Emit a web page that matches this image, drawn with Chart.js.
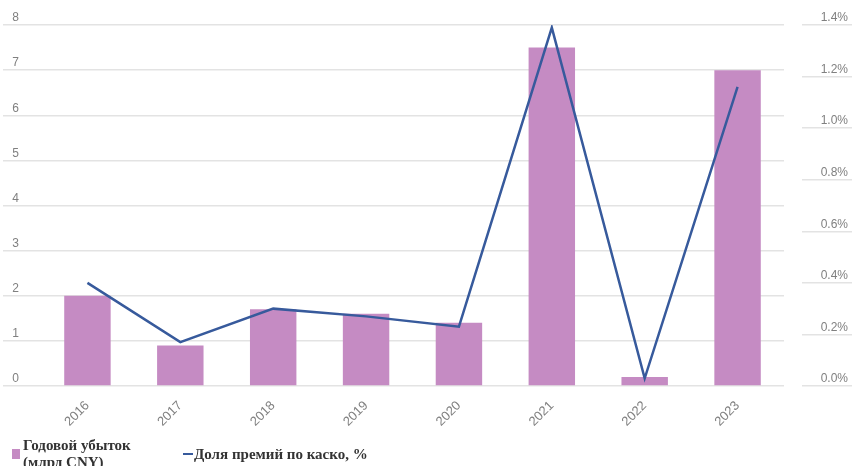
<!DOCTYPE html>
<html>
<head>
<meta charset="utf-8">
<script src="https://cdn.jsdelivr.net/npm/chart.js@4.4.1/dist/chart.umd.min.js"></script>
<style>
html,body{margin:0;padding:0;background:#fff;}
#wrap{position:relative;width:855px;height:466px;overflow:hidden;}
#chart{position:absolute;left:0;top:0;}
.leg{position:absolute;top:438px;height:32px;display:flex;align-items:center;font-family:"Liberation Serif","Times New Roman",serif;font-weight:bold;font-size:15px;line-height:17px;color:#333;white-space:nowrap;}
.box{width:8px;height:10px;margin-right:3px;flex:none;}
.dash{width:10px;height:2px;margin-right:1px;flex:none;}
</style>
</head>
<body>
<div id="wrap">
  <canvas id="chart" width="855" height="466"></canvas>
  <div class="leg" id="leg1" style="left:12px"></div>
  <div class="leg" id="leg2" style="left:183px"></div>
</div>
<script>
const years = ['2016', '2017', '2018', '2019', '2020', '2021', '2022', '2023'];
const annualLoss = [2.0, 0.9, 1.7, 1.6, 1.4, 7.5, 0.2, 7.0];
const cascoShare = [0.40, 0.17, 0.30, 0.27, 0.23, 1.39, 0.03, 1.16];
const lossLabel = ['Годовой убыток', '(млрд CNY)'];
const shareLabel = 'Доля премий по каско, %';

const barColor = '#C58BC3';
const lineColor = '#375A9C';
const gridColor = '#e3e3e3';
const tickColor = '#808080';
const tickFont = {family: '"Liberation Sans", Arial, sans-serif', size: 12};
const xTickFont = {family: '"Liberation Sans", Arial, sans-serif', size: 13};

// HTML legend built from the labels
document.getElementById('leg1').innerHTML =
  '<span class="box" style="background:' + barColor + '"></span><span>' + lossLabel.join('<br>') + '</span>';
document.getElementById('leg2').innerHTML =
  '<span class="dash" style="background:' + lineColor + '"></span><span>' + shareLabel + '</span>';

new Chart(document.getElementById('chart'), {
  data: {
    labels: years,
    datasets: [
      {
        type: 'line',
        label: shareLabel,
        data: cascoShare,
        yAxisID: 'y1',
        borderColor: lineColor,
        backgroundColor: lineColor,
        borderWidth: 2.5,
        pointRadius: 0,
        tension: 0,
        order: 0
      },
      {
        type: 'bar',
        label: lossLabel.join(' '),
        data: annualLoss,
        yAxisID: 'y',
        backgroundColor: barColor,
        categoryPercentage: 1,
        barPercentage: 0.5,
        order: 1
      }
    ]
  },
  options: {
    responsive: false,
    animation: false,
    layout: {padding: {top: 25, right: 7, left: 0, bottom: 0}},
    plugins: {legend: {display: false}, tooltip: {enabled: false}},
    scales: {
      x: {
        afterFit: s => { s.height = 80; },
        grid: {display: false},
        border: {display: false},
        ticks: {color: tickColor, font: xTickFont, minRotation: 45, maxRotation: 45, padding: 4}
      },
      y: {
        position: 'left',
        min: 0, max: 8,
        afterFit: s => { s.width = 41; },
        border: {display: false},
        grid: {color: gridColor, lineWidth: 1.5, tickLength: 38, tickColor: gridColor, tickWidth: 1.5},
        ticks: {stepSize: 1, color: tickColor, font: tickFont, padding: -16, labelOffset: -7, crossAlign: 'near'}
      },
      y1: {
        position: 'right',
        min: 0, max: 1.4,
        afterFit: s => { s.width = 64; },
        border: {display: false},
        grid: {drawOnChartArea: false, color: gridColor, lineWidth: 1.5, tickLength: 68,
               tickColor: gridColor, tickWidth: 1.5, tickBorderDash: [50, 18], tickBorderDashOffset: 50},
        ticks: {stepSize: 0.2, color: tickColor, font: tickFont, padding: -40, labelOffset: -7, crossAlign: 'far',
                callback: v => Number(v).toFixed(1) + '%'}
      }
    }
  }
});
</script>
</body>
</html>
